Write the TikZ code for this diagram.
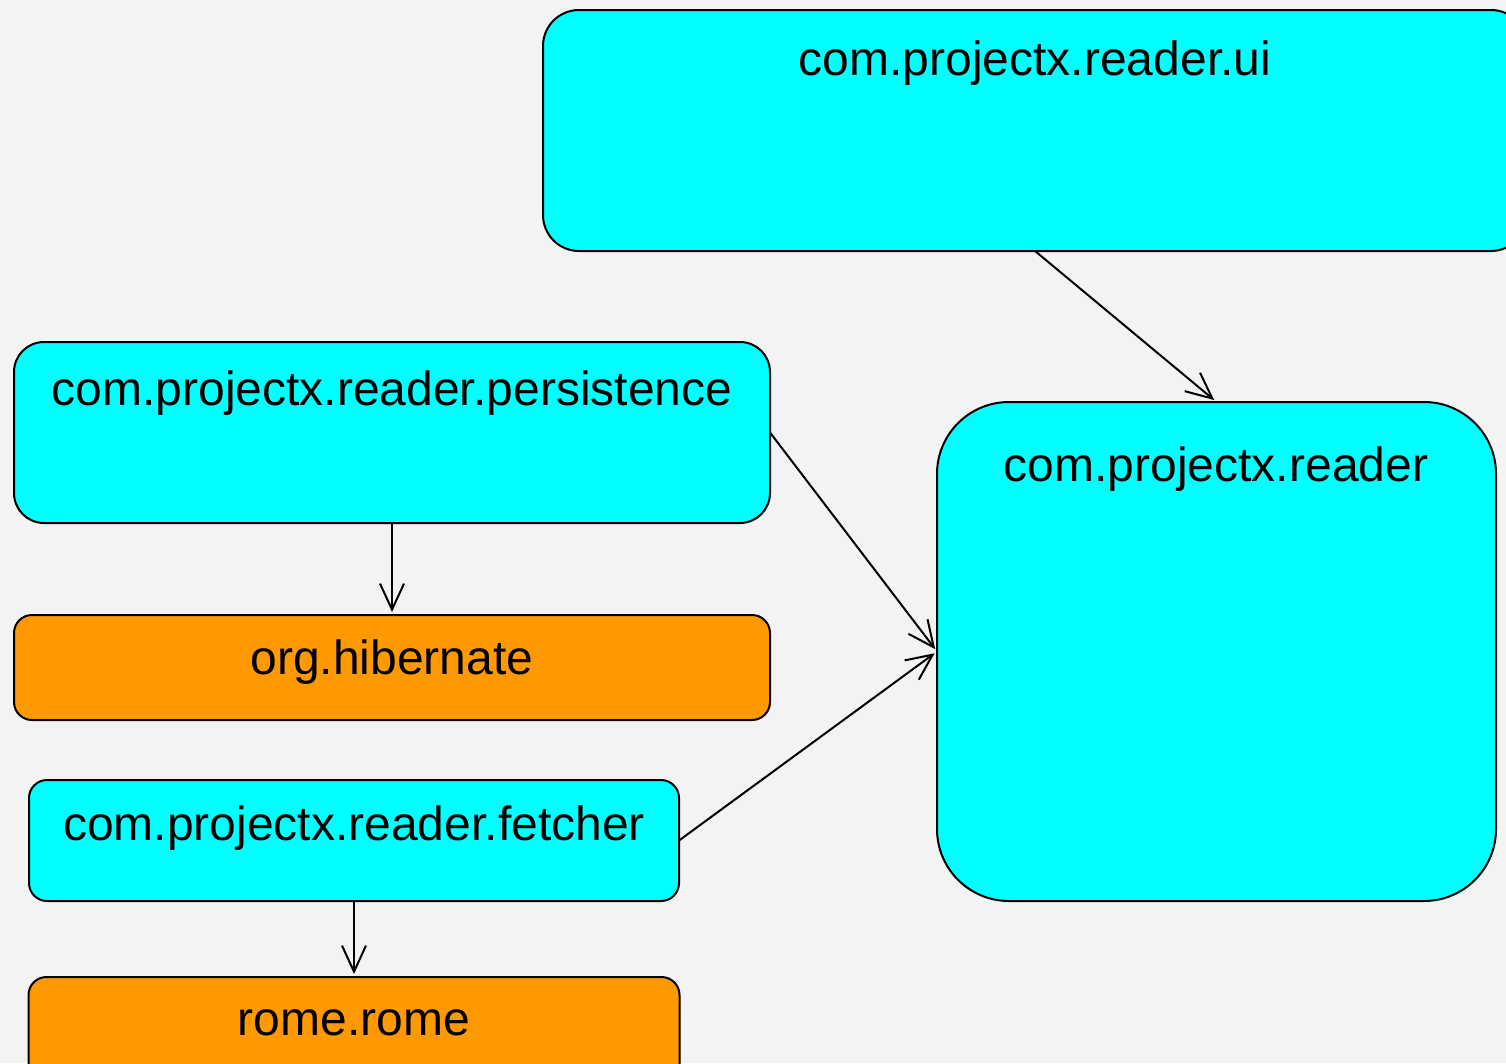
\documentclass[tikz,border=0pt]{standalone}
\usepackage{fontspec}
\setmainfont{Liberation Sans}
\usetikzlibrary{arrows.meta}
\definecolor{bg}{RGB}{243,243,243}
\definecolor{pkgcyan}{RGB}{0,255,255}
\definecolor{pkgorange}{RGB}{255,153,0}
\begin{document}
\begin{tikzpicture}[x=1pt,y=-1pt,
  box/.style={draw=black,line width=2pt,rectangle,inner sep=0pt,outer sep=0pt},
  cyanbox/.style={box,fill=pkgcyan},
  orangebox/.style={box,fill=pkgorange},
  lbl/.style={anchor=base,inner sep=0pt,font=\fontsize{48}{56}\selectfont},
  dep/.style={draw=black,line width=2pt,shorten >=3pt,-{Straight Barb[length=26pt,width=24pt,line width=2pt]}}]
\useasboundingbox (0,0) rectangle (1506,1063);
\clip (0,0) rectangle (1506,1063);
\fill[bg] (0,0) rectangle (1506,1063);
% boxes
\node[cyanbox,rounded corners=36pt,minimum width=984pt,minimum height=241pt] (ui) at (1035,130.5) {};
\node[cyanbox,rounded corners=30pt,minimum width=756pt,minimum height=181pt] (pers) at (392,432.5) {};
\node[orangebox,rounded corners=18pt,minimum width=756pt,minimum height=105pt] (hib) at (392,667.5) {};
\node[cyanbox,rounded corners=18pt,minimum width=650pt,minimum height=121pt] (fetch) at (354,840.5) {};
\node[orangebox,rounded corners=18pt,minimum width=651pt,minimum height=110pt] (rome) at (354,1032) {};
\node[cyanbox,rounded corners=72pt,minimum width=559pt,minimum height=499pt] (reader) at (1216.5,651.5) {};
% labels
\node[lbl] (uit) at (1035,75) {com.projectx.reader.ui};
\node[lbl] (perst) at (392,405) {com.projectx.reader.persistence};
\node[lbl] (hibt) at (392,674) {org.hibernate};
\node[lbl] (fetcht) at (354,840) {com.projectx.reader.fetcher};
\node[lbl] (romet) at (354,1035) {rome.rome};
\node[lbl] (readert) at (1216,481) {com.projectx.reader};
% connectors
\draw[dep] (ui.south) -- (reader.north);
\draw[dep] (pers.east) -- (reader.west);
\draw[dep] (fetch.east) -- (reader.west);
\draw[dep] (pers.south) -- (hib.north);
\draw[dep] (fetch.south) -- (rome.north);
\end{tikzpicture}
\end{document}
